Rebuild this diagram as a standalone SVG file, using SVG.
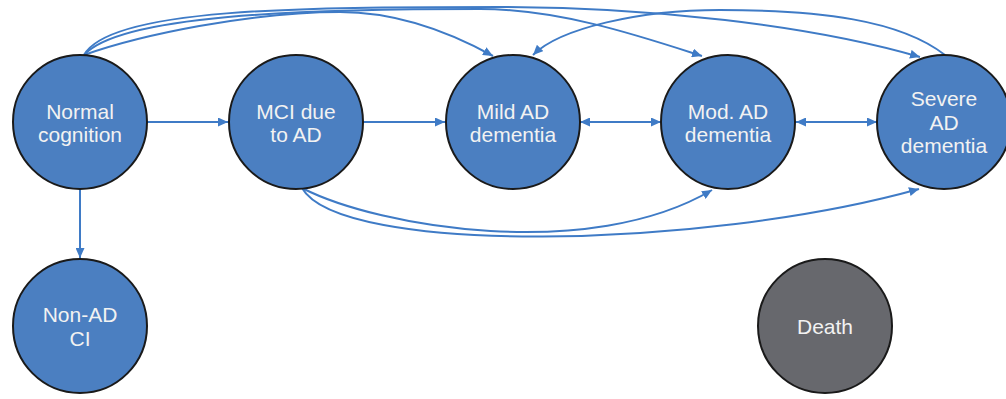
<svg xmlns="http://www.w3.org/2000/svg" width="1006" height="399" viewBox="0 0 1006 399">
<defs>
<marker id="ah" viewBox="0 0 10 10" refX="10" refY="5" markerWidth="10" markerHeight="9" markerUnits="userSpaceOnUse" orient="auto-start-reverse" preserveAspectRatio="none">
<path d="M0,0 L10,5 L0,10 z" fill="#3f7bc6"/>
</marker>
</defs>
<style>
.n{fill:#4b7fc1;stroke:#1a1a1a;stroke-width:2}
.d{fill:#67686d;stroke:#1a1a1a;stroke-width:2}
.t{font-family:"Liberation Sans",Arial,sans-serif;font-size:21px;fill:#f2f2f2;text-anchor:middle}
.c{fill:none;stroke:#3f7bc6;stroke-width:2}
</style>
<rect width="1006" height="399" fill="#ffffff"/>
<g id="connectors">
<path class="c" d="M147,122 L228,122" marker-end="url(#ah)"/>
<path class="c" d="M363,122 L445,122" marker-end="url(#ah)"/>
<path class="c" d="M580,122 L661,122" marker-start="url(#ah)" marker-end="url(#ah)"/>
<path class="c" d="M796,122 L877,122" marker-start="url(#ah)" marker-end="url(#ah)"/>
<path class="c" d="M80,189 L80,258" marker-end="url(#ah)"/>
<path class="c" d="M84,55 C140,35 250,12 340,12 C400,12 455,35 493,56" marker-end="url(#ah)"/>
<path class="c" d="M84,55 C120,15 300,9 480,9 C560,9 640,36 702,56" marker-end="url(#ah)"/>
<path class="c" d="M84,55 C110,8 300,7 500,7 C650,7 810,25 920,57" marker-end="url(#ah)"/>
<path class="c" d="M945,55 C900,20 820,10 720,10 C640,10 560,28 533,55" marker-end="url(#ah)"/>
<path class="c" d="M302,188 C380,228 590,262 712,190" marker-end="url(#ah)"/>
<path class="c" d="M302,188 C340,255 700,250 919,189" marker-end="url(#ah)"/>
</g>
<g id="normal">
<circle class="n" cx="80" cy="122" r="67"/>
<text class="t" x="80" y="119">Normal</text>
<text class="t" x="80" y="142">cognition</text>
</g>
<g id="mci">
<circle class="n" cx="296" cy="122" r="67"/>
<text class="t" x="296" y="119">MCI due</text>
<text class="t" x="296" y="142">to AD</text>
</g>
<g id="mild">
<circle class="n" cx="513" cy="122" r="67"/>
<text class="t" x="513" y="119">Mild AD</text>
<text class="t" x="513" y="142">dementia</text>
</g>
<g id="mod">
<circle class="n" cx="728" cy="122" r="67"/>
<text class="t" x="728" y="119">Mod. AD</text>
<text class="t" x="728" y="142">dementia</text>
</g>
<g id="severe">
<circle class="n" cx="944" cy="122" r="67"/>
<text class="t" x="944" y="106">Severe</text>
<text class="t" x="944" y="130">AD</text>
<text class="t" x="944" y="153">dementia</text>
</g>
<g id="nonad">
<circle class="n" cx="80" cy="326" r="67"/>
<text class="t" x="80" y="322">Non-AD</text>
<text class="t" x="80" y="346">CI</text>
</g>
<g id="death">
<circle class="d" cx="825" cy="326" r="67"/>
<text class="t" x="825" y="334">Death</text>
</g>
</svg>
